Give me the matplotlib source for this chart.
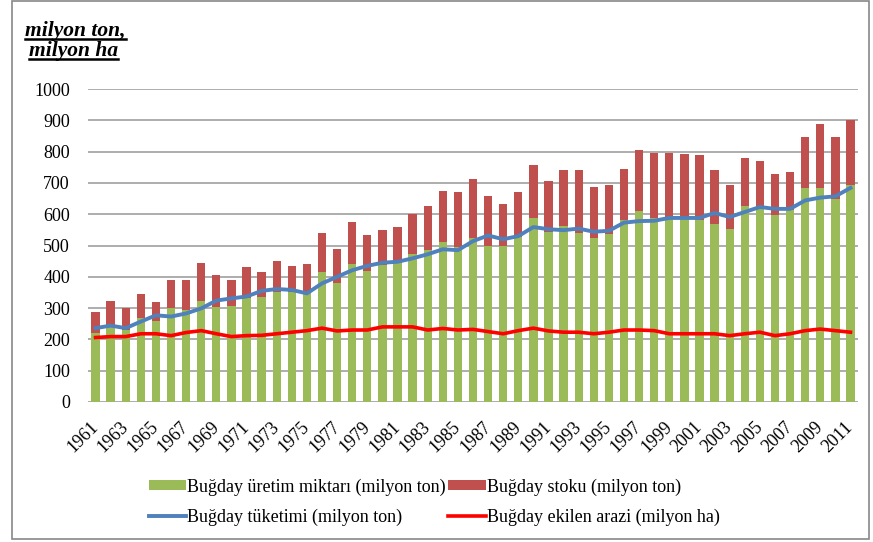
import numpy as np
import matplotlib
matplotlib.use('Agg')
import matplotlib.pyplot as plt
from matplotlib.patches import Rectangle
from matplotlib.lines import Line2D

plt.rcParams['font.family'] = ['Liberation Serif', 'DejaVu Serif']

years = list(range(1961, 2012))

# wheat production (million tons)
production = [220, 241, 230, 267, 260, 301, 294, 324, 305, 307,
              331, 337, 352, 352, 347, 414, 380, 441, 418, 437,
              443, 472, 485, 510, 496, 523, 499, 499, 528, 589,
              544, 563, 541, 523, 536, 581, 609, 589, 588, 585,
              581, 570, 553, 627, 621, 597, 612, 684, 684, 650,
              692]
# production + stock (top of stacked bar)
total = [289, 324, 301, 345, 320, 389, 389, 445, 406, 389,
         431, 414, 449, 436, 441, 540, 488, 575, 535, 549,
         558, 601, 626, 675, 670, 713, 657, 632, 670, 757,
         705, 740, 740, 688, 692, 744, 806, 797, 797, 792,
         788, 740, 692, 779, 771, 727, 736, 848, 889, 848,
         901]
stock = [t - p for t, p in zip(total, production)]
# wheat consumption (million tons)
consumption = [236, 244, 236, 257, 277, 273, 283, 299, 324, 331,
               337, 355, 361, 358, 347, 379, 400, 421, 435, 445,
               448, 459, 472, 488, 485, 514, 532, 520, 530, 559,
               552, 549, 554, 544, 547, 573, 578, 579, 588, 588,
               588, 604, 591, 607, 623, 617, 617, 644, 653, 657,
               684]
# sown area (million ha)
area = [206, 209, 209, 218, 218, 212, 222, 228, 218, 209,
        212, 213, 218, 223, 228, 236, 227, 230, 230, 240,
        240, 240, 230, 235, 230, 232, 225, 218, 228, 236,
        227, 223, 223, 218, 223, 230, 230, 228, 218, 218,
        218, 218, 212, 218, 223, 212, 218, 228, 233, 228,
        223]

tick_labels = [str(y) if (y - 1961) % 2 == 0 else '' for y in years]

fig = plt.figure(figsize=(8.73, 5.42), dpi=100)
ax = fig.add_axes([88 / 873, 140 / 542, 770 / 873, 313 / 542])

x = np.arange(len(years))
b1 = ax.bar(x, production, width=0.55, color='#9BBB59', zorder=2)
b2 = ax.bar(x, stock, bottom=production, width=0.55, color='#C0504D', zorder=2)
l1, = ax.plot(x, consumption, color='#4F81BD', lw=2.8, zorder=3)
l2, = ax.plot(x, area, color='#FF0000', lw=2.6, zorder=3)

ax.set_xlim(-0.5, len(years) - 0.5)
ax.set_ylim(0, 1000)
ax.set_yticks(range(0, 1001, 100))
ax.yaxis.grid(True, color='#a0a0a0', lw=1.2, zorder=0)
ax.set_axisbelow(True)
for s in ax.spines.values():
    s.set_visible(False)
ax.set_xticks(x)
ax.set_xticklabels(tick_labels, rotation=45, ha='right', va='center',
                   rotation_mode='anchor', fontsize=13)
ax.tick_params(axis='x', length=0, pad=16)
ax.tick_params(axis='y', length=0, pad=13, labelsize=13)

fig.legend([b1, l1, b2, l2],
           ['Buğday üretim miktarı (milyon ton)', 'Buğday tüketimi (milyon ton)',
            'Buğday stoku (milyon ton)', 'Buğday ekilen arazi (milyon ha)'],
           ncol=2, frameon=False, loc='center', bbox_to_anchor=(434 / 873, 1 - 502 / 542),
           fontsize=13, handlelength=2.1, handleheight=0.5, handletextpad=0.05,
           columnspacing=0.1, labelspacing=0.7)

# y axis title (bold italic, underlined)
t1 = fig.text(25 / 873, 1 - 31 / 542, 'milyon ton,', fontsize=15.5,
              fontweight='bold', fontstyle='italic', va='center', ha='left')
t2 = fig.text(29 / 873, 1 - 51 / 542, 'milyon ha', fontsize=15.5,
              fontweight='bold', fontstyle='italic', va='center', ha='left')
fig.canvas.draw()
r = fig.canvas.get_renderer()
for t in (t1, t2):
    bb = t.get_window_extent(r).transformed(fig.transFigure.inverted())
    fig.add_artist(Line2D([bb.x0, bb.x1], [bb.y0 + 0.003, bb.y0 + 0.003],
                          color='black', lw=1.8, transform=fig.transFigure))

fig.add_artist(Rectangle((12 / 873, 3 / 542), 857 / 873, 538 / 542,
                         transform=fig.transFigure, fill=False,
                         edgecolor='#888888', lw=1.2))

fig.savefig('out.png', dpi=100)
